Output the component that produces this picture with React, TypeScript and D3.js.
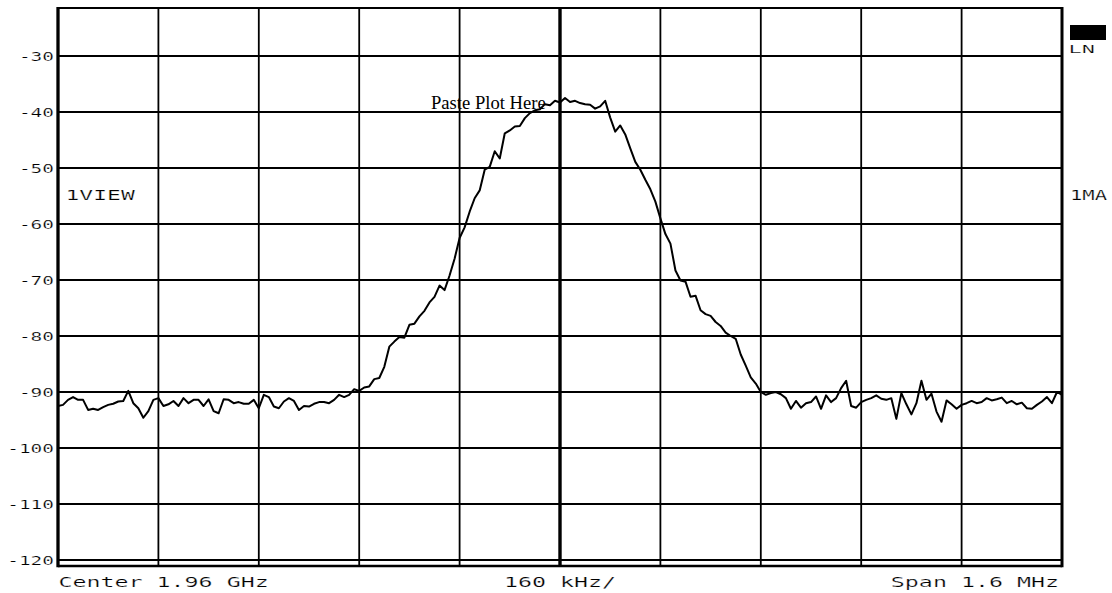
import React from "react";
import * as d3 from "d3";

// Annotation texts
const centerLabel = "Center 1.96 GHz";
const divisionLabel = "160 kHz/";
const spanLabel = "Span 1.6 MHz";
const viewLabel = "1VIEW";
const markerLabel = "1MA";
const scaleLabel = "LN";
const pasteLabel = "Paste Plot Here";

// Reference level gridlines (dBm)
const levelTicks = [-30, -40, -50, -60, -70, -80, -90, -100, -110, -120];

// Frequency divisions, offset from center in kHz (160 kHz/div, 1.6 MHz span)
const freqDivisions = [-800, -640, -480, -320, -160, 0, 160, 320, 480, 640, 800];

// Sweep: 201 points, 8 kHz apart, starting at -800 kHz from center
const sweepStartKHz = -800;
const sweepStepKHz = 8;

// Measured trace level at each sweep point (dBm)
const traceDb = [
  -92.5, -92.3, -91.4, -90.9, -91.4, -91.4, -93.2, -93.0, -93.2, -92.7,
  -92.3, -92.1, -91.7, -91.6, -89.8, -92.0, -92.9, -94.6, -93.4, -91.4,
  -91.1, -92.5, -92.2, -91.6, -92.5, -91.1, -92.0, -91.4, -91.4, -92.5,
  -91.3, -93.4, -93.8, -91.3, -91.4, -92.0, -91.8, -92.1, -92.1, -91.4,
  -92.9, -90.5, -90.9, -92.6, -92.9, -91.7, -91.1, -91.6, -93.2, -92.5,
  -92.6, -92.1, -91.8, -91.8, -92.0, -91.4, -90.5, -90.9, -90.5, -89.5,
  -89.8, -89.2, -89.0, -87.7, -87.5, -85.5, -81.9, -81.0, -80.2, -80.3,
  -78.0, -77.8, -76.5, -75.5, -74.0, -73.0, -71.0, -71.8, -69.2, -66.2,
  -62.5, -60.6, -57.8, -55.4, -54.0, -50.3, -49.8, -47.0, -48.3, -43.8,
  -43.3, -42.6, -42.5, -41.1, -40.2, -39.7, -39.5, -38.6, -38.8, -38.0,
  -38.3, -37.5, -38.2, -38.0, -38.4, -38.6, -38.7, -39.4, -39.0, -38.0,
  -41.0, -43.5, -42.4, -44.0, -46.5, -48.9, -50.3, -52.1, -53.8, -56.0,
  -59.0, -61.8, -63.5, -68.3, -70.1, -70.3, -73.0, -72.8, -75.4, -76.1,
  -76.4, -77.5, -78.2, -79.4, -80.0, -80.5, -83.3, -85.3, -87.4, -88.5,
  -90.0, -90.5, -90.2, -90.0, -90.4, -91.1, -93.0, -91.6, -92.8, -92.0,
  -91.8, -90.8, -93.0, -90.6, -91.8, -91.1, -89.3, -88.0, -92.5, -92.8,
  -91.8, -91.4, -91.1, -90.6, -91.2, -91.4, -91.1, -94.8, -90.2, -92.2,
  -94.0, -92.0, -88.0, -91.4, -90.3, -93.5, -95.3, -91.5, -92.2, -93.0,
  -92.3, -92.0, -91.6, -92.0, -91.8, -91.1, -91.5, -91.3, -91.0, -92.0,
  -91.6, -92.2, -91.9, -92.9, -93.0, -92.3, -91.7, -90.9, -92.0, -90.0,
  -90.5,
];

const W = 1112;
const H = 593;
const frame = { left: 58, right: 1062, top: 8, bottom: 566 };

const MONO = "'DejaVu Sans Mono', monospace";

type PTProps = {
  x: number;
  y: number;
  size: number;
  sx: number;
  anchor?: "start" | "middle" | "end";
  children: React.ReactNode;
};

// Wide, thin plotter-style lettering: monospace glyphs stretched horizontally,
// with a fine white outline trimming the stroke weight
function PlotterText({ x, y, size, sx, anchor = "start", children }: PTProps) {
  return (
    <text
      transform={`translate(${x},${y}) scale(${sx},1)`}
      fontFamily={MONO}
      fontSize={size}
      textAnchor={anchor}
      fill="#000"
      stroke="#fff"
      strokeWidth={0.22}
    >
      {children}
    </text>
  );
}

export default function App() {
  const x = d3
    .scaleLinear()
    .domain([freqDivisions[0], freqDivisions[freqDivisions.length - 1]])
    .range([frame.left, frame.right]);
  const y = d3.scaleLinear().domain([-120, -30]).range([560, 56]);

  const line = d3
    .line<number>()
    .x((_, i) => x(sweepStartKHz + i * sweepStepKHz))
    .y((d) => y(d))
    .curve(d3.curveLinear);

  const innerDivisions = freqDivisions.slice(1, -1);

  return (
    <svg
      width={W}
      height={H}
      viewBox={`0 0 ${W} ${H}`}
      style={{ position: "absolute", left: 0, top: 0, background: "#fff" }}
    >
      <rect x={0} y={0} width={W} height={H} fill="#fff" />

      {/* horizontal level gridlines */}
      {levelTicks.map((v) => (
        <line
          key={`h${v}`}
          x1={frame.left}
          x2={frame.right}
          y1={y(v)}
          y2={y(v)}
          stroke="#000"
          strokeWidth={1.8}
        />
      ))}

      {/* vertical frequency gridlines, center one heavier */}
      {innerDivisions.map((f) => (
        <line
          key={`v${f}`}
          x1={x(f)}
          x2={x(f)}
          y1={frame.top}
          y2={frame.bottom}
          stroke="#000"
          strokeWidth={f === 0 ? 3.4 : 1.8}
        />
      ))}

      {/* graticule frame */}
      <line x1={frame.left} x2={frame.right} y1={frame.top} y2={frame.top} stroke="#000" strokeWidth={2.2} />
      <line x1={frame.left} x2={frame.right} y1={frame.bottom} y2={frame.bottom} stroke="#000" strokeWidth={2.6} />
      <line x1={frame.left} x2={frame.left} y1={frame.top - 1} y2={frame.bottom + 1.3} stroke="#000" strokeWidth={3.3} />
      <line x1={frame.right} x2={frame.right} y1={frame.top - 1} y2={frame.bottom + 1.3} stroke="#000" strokeWidth={3} />

      {/* level labels */}
      {levelTicks.map((v) => (
        <PlotterText key={`l${v}`} x={54} y={y(v) + 4.8} size={12.8} sx={1.52} anchor="end">
          {String(v)}
        </PlotterText>
      ))}

      {/* measured trace */}
      <path d={line(traceDb) ?? ""} fill="none" stroke="#000" strokeWidth={2} strokeLinejoin="round" />

      {/* placeholder note */}
      <text x={431} y={109} fontFamily="'Liberation Serif', 'Times New Roman', serif" fontSize={18.6} fill="#000">
        {pasteLabel}
      </text>

      {/* side annotations */}
      <PlotterText x={65.5} y={200} size={13.7} sx={1.68}>
        {viewLabel}
      </PlotterText>
      <PlotterText x={1070} y={200} size={13.7} sx={1.5}>
        {markerLabel}
      </PlotterText>
      <rect x={1070} y={25} width={36} height={15} fill="#000" />
      <PlotterText x={1068.5} y={53} size={11} sx={2.0}>
        {scaleLabel}
      </PlotterText>

      {/* bottom annotations */}
      <PlotterText x={58.5} y={587} size={13.7} sx={1.7}>
        {centerLabel}
      </PlotterText>
      <PlotterText x={x(0)} y={587} size={13.7} sx={1.7} anchor="middle">
        {divisionLabel}
      </PlotterText>
      <PlotterText x={1059} y={587} size={13.7} sx={1.7} anchor="end">
        {spanLabel}
      </PlotterText>
    </svg>
  );
}
